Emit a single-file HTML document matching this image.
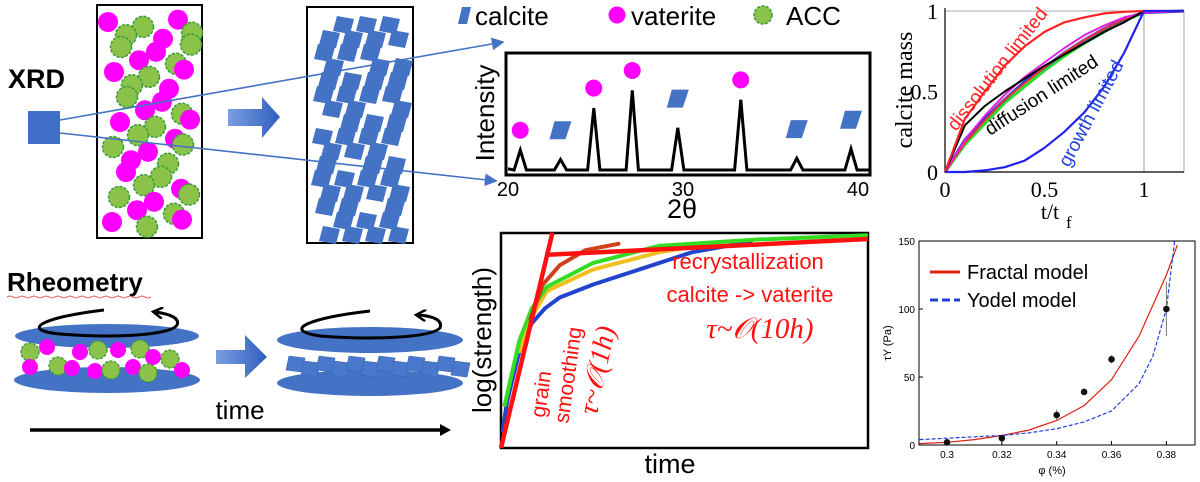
<!DOCTYPE html>
<html><head><meta charset="utf-8"><style>
html,body{margin:0;padding:0;background:#fff}
svg{display:block}
text{font-family:"Liberation Sans",sans-serif}
</style></head><body>
<svg id="fig" width="1200" height="482" viewBox="0 0 1200 482" xmlns="http://www.w3.org/2000/svg">
<defs>
<linearGradient id="bg" x1="0" x2="1"><stop offset="0" stop-color="#7a9ee0"/><stop offset="1" stop-color="#2f5fbf"/></linearGradient>
<marker id="ah" markerWidth="8" markerHeight="8" refX="7" refY="4" orient="auto"><path d="M0,0 L8,4 L0,8 z" fill="#4472c4"/></marker>
<marker id="ahk" markerUnits="userSpaceOnUse" markerWidth="12" markerHeight="12" refX="8" refY="6" orient="auto"><path d="M0,0 L10,6 L0,12" fill="none" stroke="#000" stroke-width="2.5"/></marker>
</defs>
<g id="left">
<text x="8" y="88" font-size="27" font-weight="bold">XRD</text>
<rect x="97" y="5" width="105" height="233" fill="#fff" stroke="#000" stroke-width="2"/>
<rect x="307" y="7" width="106" height="236" fill="#fff" stroke="#000" stroke-width="2"/>
<g id="box1"></g>
<g id="box2"></g>
<rect x="28" y="111" width="32" height="33" fill="#3f6fc8"/>
<line x1="60" y1="120" x2="503" y2="42" stroke="#4472c4" stroke-width="1.6" marker-end="url(#ah)"/>
<line x1="60" y1="133" x2="496" y2="181" stroke="#4472c4" stroke-width="1.6" marker-end="url(#ah)"/>
<path d="M228,109 L262,109 L262,97 L280,117 L262,138 L262,126 L228,126 z" fill="url(#bg)"/>
<text x="7" y="291" font-size="26" font-weight="bold">Rheometry</text>
<path d="M7,297 q3,-2 6,0 t6,0 t6,0 t6,0 t6,0 t6,0 t6,0 t6,0 t6,0 t6,0 t6,0 t6,0 t6,0 t6,0 t6,0 t6,0 t6,0 t6,0 t6,0 t6,0 t6,0 t6,0 t6,0 t6,0" fill="none" stroke="#e33" stroke-width="0.8"/>
<ellipse cx="107" cy="336" rx="92" ry="12" fill="#4472c4"/>
<ellipse cx="107" cy="380" rx="93" ry="13" fill="#4472c4"/>
<g id="rheo1"></g>
<path d="M104,310 C40,318 20,330 60,334 C110,338 170,336 177,325 C180,318 170,314 155,312" fill="none" stroke="#000" stroke-width="3" marker-end="url(#ahk)"/>
<ellipse cx="370" cy="340" rx="93" ry="13" fill="#4472c4"/>
<ellipse cx="370" cy="383" rx="93" ry="13" fill="#4472c4"/>
<g id="rheo2"></g>
<path d="M370,311 C310,318 280,330 320,336 C370,340 430,338 440,328 C443,320 433,316 418,315" fill="none" stroke="#000" stroke-width="3" marker-end="url(#ahk)"/>
<path d="M216,350 L245,350 L245,335 L267,357 L245,378 L245,364 L216,364 z" fill="url(#bg)"/>
<text x="240" y="419" font-size="26" text-anchor="middle">time</text>
<line x1="30" y1="430" x2="442" y2="430" stroke="#000" stroke-width="3.5"/>
<path d="M440,424 L451,430 L440,436 z" fill="#000"/>
</g>

<g id="legend">
<polygon points="458,24 462,7 471,7 467,24" fill="#4472c4"/>
<text x="475" y="25" font-size="26">calcite</text>
<circle cx="617" cy="15" r="8.5" fill="#f0f"/>
<text x="631" y="25" font-size="26">vaterite</text>
<circle cx="763" cy="15" r="9" fill="#8bc34a" stroke="#3a9a3a" stroke-width="1.5" stroke-dasharray="3 1.5"/>
<text x="786" y="25" font-size="26">ACC</text>
</g>
<g id="xrd"></g>
<g id="mass"></g>
<g id="strength"></g>
<g id="yield"></g>
</svg>
<script>
const NS='http://www.w3.org/2000/svg';
function mk(parent,tag,attrs,txt){const e=document.createElementNS(NS,tag);for(const k in attrs)e.setAttribute(k,attrs[k]);if(txt!==undefined)e.textContent=txt;parent.appendChild(e);return e;}
function poly(pts){return pts.map(p=>p[0].toFixed(1)+','+p[1].toFixed(1)).join(' ');}
const SERIF='font-family:"Liberation Serif",serif';

/* ---------- schematic particles ---------- */
const b1=document.getElementById('box1');
const pat=[[0,0],[35,8],[70,-4],[18,22],[55,28],[84,18]];
for(let r=0;r<9;r++){
  for(let j=0;j<pat.length;j++){
    const x=108+pat[j][0]+((r*13)%20), y=22+r*25+pat[j][1]*0.6;
    if(x>193||y>230)continue;
    let e;
    if((j+r)%2===0){e=mk(b1,'circle',{cx:x,cy:y,r:10,fill:'#f0f'});}
    else{e=mk(b1,'circle',{cx:x,cy:y,r:10.5,fill:'#8bc34a',stroke:'#3a9a3a','stroke-width':1.5,'stroke-dasharray':'3 1.5'});}
    
    
  }
}
const b2=document.getElementById('box2');
for(let r=0;r<16;r++){
  for(let j=0;j<4;j++){
    if((r*3+j*5)%7===0)continue;
    const x=314+j*23+((r*9)%14)-4, y=16+r*14;
    if(x>392)continue;
    const e=mk(b2,'polygon',{points:poly([[x+4,y],[x+21,y+3],[x+17,y+18],[x,y+15]]),fill:'#4472c4'});
    
    
  }
}
const r1=document.getElementById('rheo1');
const rp=[[30,352,'g'],[47,347,'m'],[30,367,'m'],[58,366,'g'],[80,352,'m'],[72,368,'m'],[98,350,'g'],[95,371,'m'],[118,350,'m'],[111,370,'g'],[140,349,'g'],[133,367,'m'],[153,357,'m'],[148,373,'g'],[170,359,'g'],[182,370,'m']];
rp.forEach(p=>{let e;
  if(p[2]==='m')e=mk(r1,'circle',{cx:p[0],cy:p[1],r:8,fill:'#f0f'});
  else e=mk(r1,'circle',{cx:p[0],cy:p[1],r:9,fill:'#8bc34a',stroke:'#3a9a3a','stroke-width':1.3,'stroke-dasharray':'3 1.5'});
  
  });
const r2=document.getElementById('rheo2');
for(let j=0;j<12;j++){
  const x=286+j*15, y=356+((j*5)%10);
  const e=mk(r2,'polygon',{points:poly([[x+3,y],[x+19,y+2],[x+16,y+16],[x,y+14]]),fill:'#4a78cc',stroke:'#3a64b0','stroke-width':0.6});
  
  
}

/* ---------- XRD chart ---------- */
const xrdAngles=[20.7,23.0,24.9,27.1,29.7,33.3,36.5,39.6];
const xrdHeights=[17,9,53,68,36,60,10,18];
const xrdPhase=['v','c','v','v','c','v','c','c'];
const xrdTicks=[20,30,40];
(function(){
  const g=document.getElementById('xrd');
  const X=a=>508+(a-20)*17.5, Y=v=>170-v*1.17;
  const box=mk(g,'rect',{x:506,y:53,width:364,height:122,fill:'#fff',stroke:'#000','stroke-width':3});
  
  
  const pts=[[X(20),Y(1)]];
  xrdAngles.forEach((a,i)=>{pts.push([X(a-0.35),Y(0)],[X(a),Y(xrdHeights[i])],[X(a+0.35),Y(0)]);});
  pts.push([X(40.7),Y(0)]);
  const line=mk(g,'polyline',{points:poly(pts),fill:'none',stroke:'#000','stroke-width':3,'stroke-linejoin':'miter'});
  
  
  xrdAngles.forEach((a,i)=>{
    const cx=X(a), cy=Y(xrdHeights[i]+(xrdPhase[i]==='v'?17:25));
    let e;
    if(xrdPhase[i]==='v')e=mk(g,'circle',{cx:cx,cy:cy,r:8.5,fill:'#f0f'});
    else e=mk(g,'polygon',{points:poly([[cx-6,cy-9],[cx+11,cy-9],[cx+5,cy+9],[cx-11,cy+9]]),fill:'#4472c4'});
    
    
  });
  xrdTicks.forEach(t=>{const e=mk(g,'text',{x:X(t),y:196,'font-size':20,'text-anchor':'middle'},String(t));
    
    });
  const xt=mk(g,'text',{x:682,y:218,'font-size':27,'text-anchor':'middle'},'2θ');
  
  
  const yt=mk(g,'text',{x:0,y:0,'font-size':26,'text-anchor':'middle',transform:'translate(494,113) rotate(-90)'},'Intensity');
  
  
})();

/* ---------- calcite mass chart ---------- */
const massT=[0,0.1,0.2,0.3,0.4,0.5,0.6,0.7,0.8,0.9,1.0,1.2];
const massDissolution=[0,0.33,0.5,0.66,0.78,0.87,0.93,0.96,0.985,0.995,1,1];
const massDiffusion=[0,0.29,0.41,0.5,0.58,0.66,0.73,0.8,0.87,0.93,1,1];
const massGrowth=[0,0,0.01,0.03,0.07,0.15,0.25,0.37,0.53,0.74,1,1];
const massDataBlue=[0,0.2,0.33,0.45,0.56,0.65,0.74,0.82,0.89,0.95,0.99,1];
const massDataGreen=[0,0.17,0.3,0.43,0.53,0.63,0.72,0.8,0.87,0.94,0.99,1];
const massDataMagenta=[0,0.2,0.35,0.48,0.59,0.68,0.77,0.85,0.91,0.96,0.99,1];
const massDataRed=[0,0.18,0.32,0.45,0.55,0.65,0.74,0.82,0.89,0.95,0.99,1];
const massTicks=[0,0.5,1];
(function(){
  const g=document.getElementById('mass');
  const X=t=>945+t*199, Y=v=>172-v*161;
  const fr=mk(g,'rect',{x:945,y:11,width:239,height:161,fill:'none',stroke:'#aaa','stroke-width':1});
  
  
  const vl=mk(g,'line',{x1:X(1),y1:11,x2:X(1),y2:172,stroke:'#aaa','stroke-width':1.2});
  
  
  const ax=mk(g,'path',{d:'M945,8 V172 H1184',fill:'none',stroke:'#000','stroke-width':1.2});
  
  
  const series=[[massDataGreen,'#2ddc2d',3,'data-green'],[massDataBlue,'#2233ee',3,'data-blue'],[massDataRed,'#e33',2,'data-red'],[massDataMagenta,'#e020e0',2,'data-magenta'],[massDiffusion,'#000',2,'diffusion-limited-curve'],[massDissolution,'#f22',2.2,'dissolution-limited-curve'],[massGrowth,'#22e',2.2,'growth-limited-curve']];
  series.forEach(s=>{
    const e=mk(g,'polyline',{points:poly(massT.map((t,i)=>[X(t),Y(s[0][i])])),fill:'none',stroke:s[1],'stroke-width':s[2],'stroke-linejoin':'round'});
    
    
  });
  massTicks.forEach(t=>{
    const a=mk(g,'text',{x:X(t),y:197,'font-size':22,'text-anchor':'middle',style:SERIF},String(t));
    
    
    const b=mk(g,'text',{x:938,y:Y(t)+8,'font-size':22,'text-anchor':'end',style:SERIF},String(t));
    
    
  });
  const xt=mk(g,'text',{x:1050,y:219,'font-size':22,'text-anchor':'middle',style:SERIF},'t/t');
  
  
  const xs=mk(g,'text',{x:1066,y:228,'font-size':17,style:SERIF},'f');
  
  
  const yt=mk(g,'text',{x:0,y:0,'font-size':24,'text-anchor':'middle',style:SERIF,transform:'translate(912,90) rotate(-90)'},'calcite mass');
  
  
  const l1=mk(g,'text',{x:0,y:0,'font-size':19,fill:'#f22',transform:'translate(956,132) rotate(-52)'},'dissolution limited');
  
  
  const l2=mk(g,'text',{x:0,y:0,'font-size':19,fill:'#000',transform:'translate(990,136) rotate(-33)'},'diffusion limited');
  
  
  const l3=mk(g,'text',{x:0,y:0,'font-size':19,fill:'#2244dd',transform:'translate(1069,168) rotate(-62)'},'growth limited');
  
  
})();

/* ---------- log(strength) chart ---------- */
const strBlueT=[0.5,1.5,2,5,8.4,12,16,25,34,52,68];
const strBlueV=[8,20,24,45,58,65,70,76,81,91,96];
const strGreenT=[1,5,8.4,12.5,25,43,70,99.5];
const strGreenV=[20,50,65,75,86,94,97,99];
const strYellowT=[5,8,12.5,25,43,61];
const strYellowV=[45,60,73,83,91,96];
const strBrownT=[8,11.4,16,23,32];
const strBrownV=[60,76,85,92,95];
const fitSteepT=[0,14];
const fitSteepV=[0,100];
const fitSlowT=[12,100];
const fitSlowV=[89.8,97.2];
(function(){
  const g=document.getElementById('strength');
  const X=t=>501+t*3.67, Y=v=>448-v*2.15;
  const fr=mk(g,'rect',{x:501,y:233,width:367,height:215,fill:'#fff',stroke:'#000','stroke-width':2.5});
  
  
  const ser=[[strBlueT,strBlueV,'#2244cc','blue-strength-curve'],[strYellowT,strYellowV,'#f0c020','yellow-strength-curve'],[strGreenT,strGreenV,'#33dd22','green-strength-curve'],[strBrownT,strBrownV,'#d0401a','brown-strength-curve']];
  ser.forEach(s=>{
    const e=mk(g,'polyline',{points:poly(s[0].map((t,i)=>[X(t),Y(s[1][i])])),fill:'none',stroke:s[2],'stroke-width':4,'stroke-linejoin':'round','stroke-linecap':'round'});
    
    
  });
  [[fitSteepT,fitSteepV,'fast-fit-line'],[fitSlowT,fitSlowV,'slow-fit-line']].forEach(s=>{
    const e=mk(g,'line',{x1:X(s[0][0]),y1:Y(s[1][0]),x2:X(s[0][1]),y2:Y(s[1][1]),stroke:'#f11','stroke-width':4.5});
    
    
  });
  const t1=mk(g,'text',{x:748,y:269,'font-size':22,'text-anchor':'middle',fill:'#f11'},'recrystallization');
  
  
  const t2=mk(g,'text',{x:750,y:302,'font-size':22,'text-anchor':'middle',fill:'#f11'},'calcite -> vaterite');
  
  
  const t3=mk(g,'text',{x:760,y:338,'font-size':29,'text-anchor':'middle',fill:'#f11',style:SERIF+';font-style:italic'},'τ~𝒪(10h)');
  
  
  const t4=mk(g,'text',{x:0,y:0,'font-size':21,'text-anchor':'middle',fill:'#f11',transform:'translate(548,395) rotate(-82)'},'grain');
  
  
  const t5=mk(g,'text',{x:0,y:0,'font-size':21,'text-anchor':'middle',fill:'#f11',transform:'translate(575,376) rotate(-82)'},'smoothing');
  
  
  const t6=mk(g,'text',{x:0,y:0,'font-size':28,'text-anchor':'middle',fill:'#f11',style:SERIF+';font-style:italic',transform:'translate(606,372) rotate(-78)'},'τ~𝒪(1h)');
  
  
  const xt=mk(g,'text',{x:670,y:473,'font-size':27,'text-anchor':'middle'},'time');
  
  
  const yt=mk(g,'text',{x:0,y:0,'font-size':26,'text-anchor':'middle',transform:'translate(491,340) rotate(-90)'},'log(strength)');
  
  
})();

/* ---------- yield stress chart ---------- */
const phiPts=[0.30,0.32,0.34,0.35,0.36,0.38];
const tauPts=[2,5,22,39,63,100];
const tauErr=[1,1,4,1,3,20];
const fractalPhi=[0.29,0.30,0.31,0.32,0.33,0.34,0.35,0.36,0.37,0.38,0.384];
const fractalTau=[1,2,4,7,11,18,29,48,80,125,147];
const yodelPhi=[0.29,0.30,0.31,0.32,0.33,0.34,0.35,0.36,0.37,0.375,0.38,0.383];
const yodelTau=[4,5,6,7,9,12,17,25,45,65,100,150];
const yieldXTicks=[0.3,0.32,0.34,0.36,0.38];
const yieldYTicks=[0,50,100,150];
(function(){
  const g=document.getElementById('yield');
  const X=p=>919.6+(p-0.29)*2742, Y=v=>445-v*1.36;
  const clip=mk(document.querySelector('defs'),'clipPath',{id:'yclip'});
  mk(clip,'rect',{x:919,y:241,width:276,height:204});
  const fr=mk(g,'rect',{x:919,y:241,width:276,height:204,fill:'#fff',stroke:'#000','stroke-width':1});
  
  
  const cg=mk(g,'g',{'clip-path':'url(#yclip)'});
  const fl=mk(cg,'polyline',{points:poly(fractalPhi.map((p,i)=>[X(p),Y(fractalTau[i])])),fill:'none',stroke:'#e02010','stroke-width':1.2});
  
  
  const yl=mk(cg,'polyline',{points:poly(yodelPhi.map((p,i)=>[X(p),Y(yodelTau[i])])),fill:'none',stroke:'#2040e0','stroke-width':1.2,'stroke-dasharray':'4 2'});
  
  
  phiPts.forEach((p,i)=>{
    const eb=mk(g,'line',{x1:X(p),y1:Y(tauPts[i]-tauErr[i]),x2:X(p),y2:Y(tauPts[i]+tauErr[i]),stroke:'#777','stroke-width':1});
    
    
    const c=mk(g,'circle',{cx:X(p),cy:Y(tauPts[i]),r:3.3,fill:'#111'});
    
    
  });
  yieldXTicks.forEach(t=>{
    const tk=mk(g,'line',{x1:X(t),y1:445,x2:X(t),y2:441,stroke:'#000'});
    
    
    const e=mk(g,'text',{x:X(t),y:458,'font-size':10,'text-anchor':'middle'},String(t));
    
    
  });
  yieldYTicks.forEach(t=>{
    const tk=mk(g,'line',{x1:919,y1:Y(t),x2:923,y2:Y(t),stroke:'#000'});
    
    
    const e=mk(g,'text',{x:915,y:Y(t)+4,'font-size':10,'text-anchor':'end'},String(t));
    
    
  });
  const ll1=mk(g,'line',{x1:930,y1:272,x2:960,y2:272,stroke:'#e02010','stroke-width':3});
  
  
  const lt1=mk(g,'text',{x:967,y:279,'font-size':20},'Fractal model');
  
  
  const ll2=mk(g,'line',{x1:930,y1:300,x2:960,y2:300,stroke:'#2040e0','stroke-width':3,'stroke-dasharray':'8 4'});
  
  
  const lt2=mk(g,'text',{x:967,y:307,'font-size':20},'Yodel model');
  
  
  const xt=mk(g,'text',{x:1052,y:474,'font-size':11,'text-anchor':'middle'},'φ (%)');
  
  
  const yt=mk(g,'text',{x:0,y:0,'font-size':11,'text-anchor':'middle',transform:'translate(891,343) rotate(-90)'},'τY (Pa)');
  
  
})();
</script>
</body></html>
